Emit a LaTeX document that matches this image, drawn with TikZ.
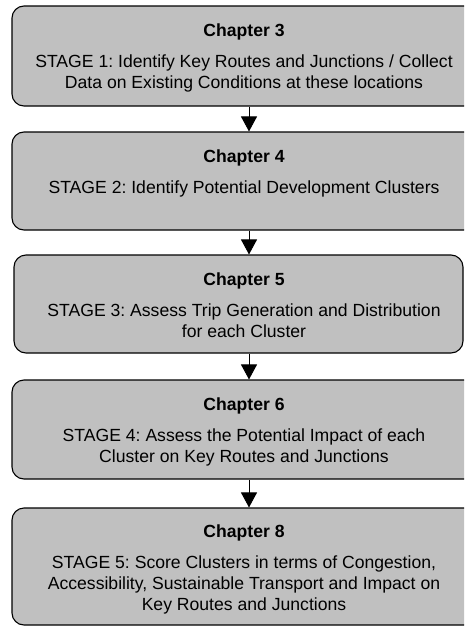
\documentclass[tikz,border=0pt]{standalone}
\usepackage{fontspec}
\setmainfont{Liberation Sans}
\usetikzlibrary{arrows.meta}
\definecolor{boxgray}{HTML}{C0C0C0}
\frenchspacing
\begin{document}
\begin{tikzpicture}[x=1pt,y=-1pt,
  stagebox/.style={draw=black, line width=1.1pt, fill=boxgray, rounded corners=12pt,
    rectangle, inner sep=0pt, minimum width=464pt},
  stagetext/.style={anchor=north, inner sep=0pt, align=center,
    font=\fontsize{17.6pt}{21pt}\selectfont},
  flow/.style={line width=0.9pt, -{Triangle[width=16pt,length=15pt]}}
]
\useasboundingbox (0,0) rectangle (464,627);
\clip (0,0) rectangle (464,627);
\coordinate (ax) at (249,0);

\node[stagebox, minimum height=100pt] (b1) at (244,56) {};
\node[stagebox, minimum height=98pt] (b2) at (244,181) {};
\node[stagebox, minimum height=98pt, minimum width=449pt] (b3) at (238.5,304) {};
\node[stagebox, minimum height=99pt] (b4) at (244,429.5) {};
\node[stagebox, minimum height=117pt] (b5) at (244,566.5) {};

\node[stagetext] (t1) at (244,24) {\textbf{Chapter 3}\\[10pt]
  STAGE 1: Identify Key Routes and Junctions / Collect\\
  Data on Existing Conditions at these locations};
\node[stagetext] (t2) at (244,150) {\textbf{Chapter 4}\\[10pt]
  STAGE 2: Identify Potential Development Clusters};
\node[stagetext] (t3) at (244,273) {\textbf{Chapter 5}\\[10pt]
  STAGE 3: Assess Trip Generation and Distribution\\
  for each Cluster};
\node[stagetext] (t4) at (244,398) {\textbf{Chapter 6}\\[10pt]
  STAGE 4: Assess the Potential Impact of each\\
  Cluster on Key Routes and Junctions};
\node[stagetext] (t5) at (244,525) {\textbf{Chapter 8}\\[10pt]
  STAGE 5: Score Clusters in terms of Congestion,\\
  Accessibility, Sustainable Transport and Impact on\\
  Key Routes and Junctions};

\draw[flow] (b1.south -| ax) -- (b2.north -| ax);
\draw[flow] (b2.south -| ax) -- (b3.north -| ax);
\draw[flow] (b3.south -| ax) -- (b4.north -| ax);
\draw[flow] (b4.south -| ax) -- (b5.north -| ax);
\end{tikzpicture}
\end{document}
